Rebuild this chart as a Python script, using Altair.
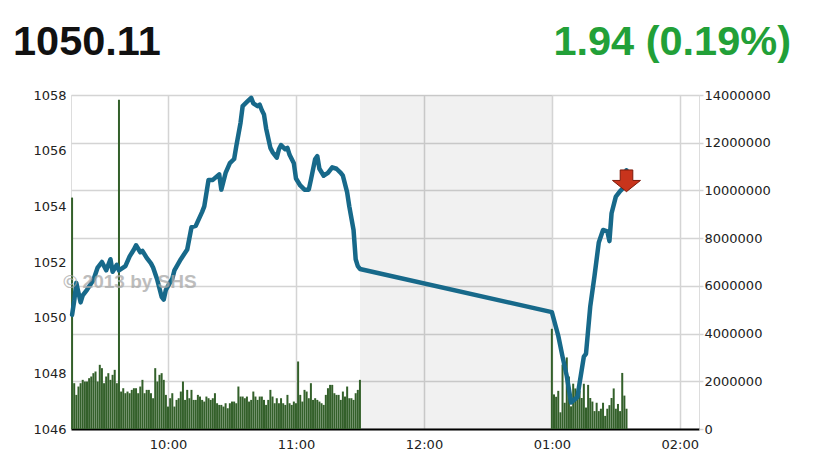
import altair as alt
import pandas as pd

DAY = "2013-01-01T"

title_left = "1050.11"
title_right = "1.94 (0.19%)"
watermark = "© 2013 by SHS"

price_times = ["09:15", "09:16", "09:17", "09:18", "09:19", "09:20", "09:22", "09:25", "09:27", "09:29",
               "09:31", "09:33", "09:34", "09:36", "09:37", "09:40", "09:42", "09:44", "09:45", "09:47",
               "09:48", "09:50", "09:52", "09:53", "09:55", "09:57", "09:58", "09:59", "10:02", "10:03",
               "10:06", "10:09", "10:11", "10:13", "10:16", "10:17", "10:19", "10:21", "10:24", "10:25",
               "10:27", "10:29", "10:31", "10:32", "10:34", "10:35", "10:37", "10:39", "10:40", "10:42",
               "10:43", "10:44", "10:45", "10:46", "10:48", "10:49", "10:51", "10:52", "10:53", "10:55",
               "10:56", "10:57", "10:59", "11:00", "11:02", "11:04", "11:06", "11:07", "11:09", "11:10",
               "11:11", "11:13", "11:15", "11:17", "11:19", "11:21", "11:22", "11:24", "11:25", "11:27",
               "11:28", "11:29", "11:30", "13:00", "13:03", "13:05", "13:07", "13:09", "13:12", "13:13",
               "13:15", "13:16", "13:18", "13:20", "13:22", "13:24", "13:26", "13:27", "13:28", "13:30",
               "13:32", "13:34", "13:35"]
price_values = [1050.1, 1050.6, 1051.25, 1050.9, 1050.55, 1050.8, 1051.0, 1051.35, 1051.8, 1052.0,
                1051.7, 1052.1, 1051.65, 1051.9, 1051.7, 1051.85, 1052.2, 1052.45, 1052.6, 1052.35,
                1052.4, 1052.15, 1051.95, 1051.8, 1051.35, 1050.75, 1050.65, 1051.0, 1051.4, 1051.7,
                1052.1, 1052.45, 1053.25, 1053.3, 1053.8, 1054.0, 1054.95, 1054.95, 1055.15, 1054.6,
                1055.2, 1055.55, 1055.7, 1056.15, 1057.0, 1057.6, 1057.75, 1057.9, 1057.7, 1057.6,
                1057.65, 1057.45, 1057.3, 1056.8, 1056.1, 1055.95, 1055.75, 1056.05, 1056.2, 1056.05,
                1056.1, 1055.85, 1055.55, 1055.0, 1054.75, 1054.6, 1054.6, 1054.95, 1055.7, 1055.8,
                1055.35, 1055.1, 1055.2, 1055.4, 1055.35, 1055.2, 1055.1, 1054.5, 1054.0, 1053.15,
                1052.1, 1051.85, 1051.75, 1050.2, 1049.35, 1048.6, 1047.9, 1046.95, 1047.15, 1047.65,
                1048.6, 1048.7, 1050.4, 1051.5, 1052.7, 1053.15, 1053.1, 1052.75, 1053.75, 1054.35,
                1054.55, 1054.7, 1055.3]

# volume per minute, in millions of shares
vol_am_start = "09:15"
vol_am = [9.7, 1.92, 1.43, 1.78, 1.92, 2.06, 1.99, 1.99, 2.13, 2.20,
          2.34, 2.41, 1.99, 2.69, 2.55, 1.92, 2.20, 2.34, 2.06, 2.27,
          2.48, 1.92, 13.8, 1.57, 1.71, 1.50, 1.57, 1.50, 1.64, 1.71,
          1.71, 1.50, 1.78, 2.06, 1.50, 1.64, 1.64, 1.50, 1.29, 2.55,
          1.99, 2.27, 2.34, 2.06, 1.43, 0.94, 1.29, 1.50, 0.94, 1.22,
          1.29, 1.57, 1.99, 1.22, 1.64, 1.29, 1.64, 1.22, 1.22, 1.43,
          1.36, 1.22, 1.15, 1.36, 1.29, 1.22, 1.29, 1.50, 1.08, 1.01,
          1.01, 0.94, 1.08, 0.87, 1.08, 1.15, 1.15, 1.08, 1.78, 1.36,
          1.36, 1.29, 1.36, 1.15, 1.22, 1.57, 1.36, 1.22, 1.36, 1.36,
          1.22, 1.01, 1.22, 1.64, 1.36, 1.08, 1.29, 1.08, 1.29, 1.08,
          1.01, 1.43, 1.08, 1.01, 1.15, 1.08, 2.83, 1.43, 1.15, 1.64,
          1.57, 1.29, 1.92, 1.22, 1.29, 1.22, 1.15, 1.08, 1.01, 1.43,
          1.71, 1.85, 1.85, 1.50, 1.43, 1.43, 1.22, 1.57, 1.36, 1.78,
          1.29, 1.29, 1.22, 1.50, 1.64, 2.06]
vol_pm_start = "13:00"
vol_pm = [4.2, 1.45, 1.35, 1.6, 0.7, 2.7, 1.1, 3.0, 2.2, 0.95,
          1.9, 1.7, 1.3, 1.6, 1.3, 1.9, 0.9, 1.85, 1.3, 1.15,
          0.75, 1.1, 0.75, 0.85, 1.1, 0.55, 0.85, 1.0, 1.3, 1.7,
          0.85, 1.05, 0.75, 2.35, 1.4, 0.85]

lunch_start, lunch_end = "11:30", "13:00"
price_ticks = [1046, 1048, 1050, 1052, 1054, 1056, 1058]
volume_ticks = [0, 2000000, 4000000, 6000000, 8000000, 10000000, 12000000, 14000000]
hour_ticks = [10, 11, 12, 13, 14]

# ---- tables ----
price_df = pd.DataFrame({"t": [DAY + s + ":00" for s in price_times], "price": price_values})
am_times = pd.date_range(pd.Timestamp(DAY + vol_am_start), periods=len(vol_am), freq="1min")
pm_times = pd.date_range(pd.Timestamp(DAY + vol_pm_start), periods=len(vol_pm), freq="1min")
vol_df = pd.DataFrame({
    "t": [d.strftime("%Y-%m-%dT%H:%M:%S") for d in list(am_times) + list(pm_times)],
    "vol": [v * 1e6 for v in vol_am + vol_pm],
})
lunch_df = pd.DataFrame({"a": [DAY + lunch_start + ":00"], "b": [DAY + lunch_end + ":00"]})
last_df = price_df.tail(1)

FONT = "DejaVu Sans"

def dt(h, m=0, s=0):
    return alt.DateTime(year=2013, month=1, date=1, hours=h, minutes=m, seconds=s)

x_scale = alt.Scale(domain=[dt(9, 14, 30), dt(14, 9)], nice=False, padding=0)
x_axis = alt.Axis(values=[dt(h) for h in hour_ticks], format="%I:%M", title=None,
                  grid=True, gridColor="#d4d4d4", gridWidth=1.5, ticks=False,
                  domainColor="#000000", domainWidth=2, labelPadding=9,
                  labelFont=FONT, labelFontSize=13, labelColor="#222222")

lunch = alt.Chart(lunch_df).mark_rect(color="#000000", opacity=0.055).encode(
    x=alt.X("a:T", scale=x_scale, axis=x_axis),
    x2="b:T",
    y=alt.value(0), y2=alt.value(334),
)

bars = alt.Chart(vol_df).mark_bar(color="#33602a", size=2.0).encode(
    x=alt.X("t:T", scale=x_scale, axis=x_axis),
    y=alt.Y("vol:Q", scale=alt.Scale(domain=[0, 14000000], nice=False),
            axis=alt.Axis(orient="right", values=volume_ticks, format="d", title=None,
                          grid=True, gridColor="#d4d4d4", gridWidth=1.5,
                          ticks=True, tickColor="#d4d4d4", tickSize=4, tickWidth=1.5,
                          domain=False, labelPadding=1,
                          labelFont=FONT, labelFontSize=13, labelColor="#222222")),
)

price_scale = alt.Scale(domain=[1046, 1058], nice=False, zero=False)
line = alt.Chart(price_df).mark_line(color="#17698a", strokeWidth=4.5, strokeJoin="round",
                                     strokeCap="round").encode(
    x=alt.X("t:T", scale=x_scale, axis=x_axis),
    y=alt.Y("price:Q", scale=price_scale,
            axis=alt.Axis(orient="left", values=price_ticks, format="d", title=None,
                          grid=False, ticks=False, domain=False, labelPadding=5,
                          labelFont=FONT, labelFontSize=13, labelColor="#222222")),
)
arrow_path = "M-0.45,-0.8 L0.45,-0.8 L0.45,-0.05 L1,-0.05 L0,0.75 L-1,-0.05 L-0.45,-0.05 Z"
arrow = alt.Chart(last_df).mark_point(shape=arrow_path, filled=True, fill="#c8341c",
                                      stroke="#7d1a0a", strokeWidth=1, size=784, opacity=1,
                                      yOffset=11).encode(
    x=alt.X("t:T", scale=x_scale, axis=x_axis),
    y=alt.Y("price:Q", scale=price_scale),
)
price_layer = alt.layer(line, arrow)

wm = alt.Chart(pd.DataFrame({"s": [watermark]})).mark_text(
    font="Liberation Sans", fontSize=19, fontWeight="bold", color="#a8a8a8", opacity=0.75,
    align="center", baseline="middle").encode(text="s:N", x=alt.value(59), y=alt.value(187))

tl = alt.Chart(pd.DataFrame({"s": [title_left]})).mark_text(
    font="Liberation Sans", fontSize=41.5, fontWeight="bold", color="#111111",
    align="left", baseline="alphabetic").encode(text="s:N", x=alt.value(-58), y=alt.value(-40))
tr = alt.Chart(pd.DataFrame({"s": [title_right]})).mark_text(
    font="Liberation Sans", fontSize=41.5, fontWeight="bold", color="#22a038",
    align="right", baseline="alphabetic").encode(text="s:N", x=alt.value(720), y=alt.value(-40))

chart = alt.layer(lunch, bars, price_layer, wm, tl, tr).resolve_scale(y="independent").properties(
    width=628, height=334,
    autosize=alt.AutoSizeParams(type="none"),
    padding={"left": 63, "top": 87, "right": 105, "bottom": 34},
).configure_view(stroke="#d4d4d4", strokeWidth=1.5).configure(background="white")

chart.save("out.html", embed_options={"renderer": "svg", "actions": False})
